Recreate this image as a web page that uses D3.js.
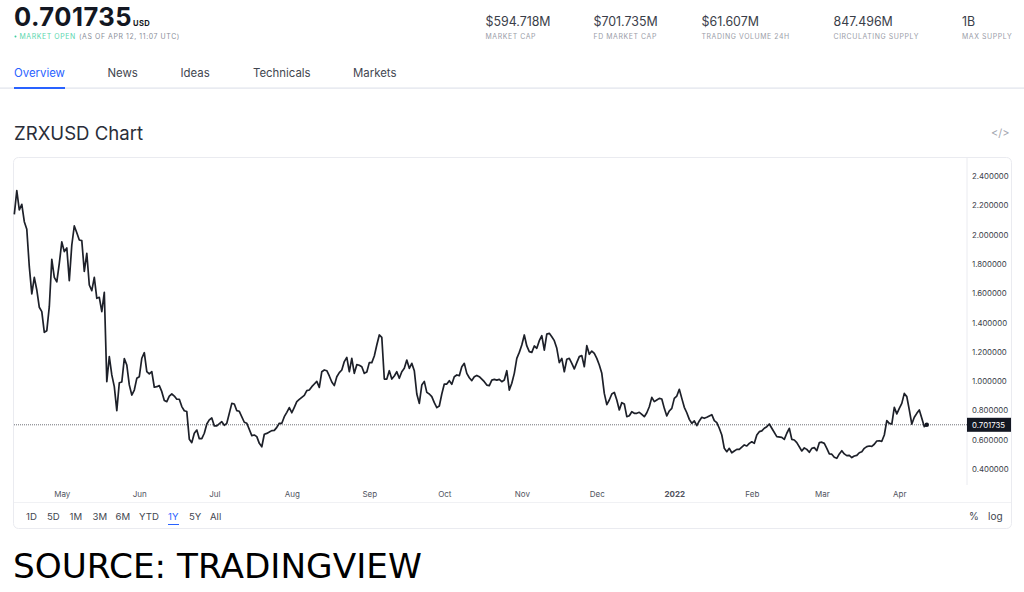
<!DOCTYPE html>
<html>
<head>
<title>ZRXUSD Chart</title>
<script src="https://d3js.org/d3.v7.min.js"></script>
<style>
    html, body { margin: 0; background: #fff; }
    svg { display: block; }
    text { font-family: Inter, 'Liberation Sans', sans-serif; }
</style>
</head>
<body>
<div id="vis"></div>
<script>
// daily closes, days counted from the first point
var startDate = new Date(Date.UTC(2021, 3, 12));
var days = [0,1,2,3,4,5,6,7,8,9,10,11,12,13,14,15,16,17,18,19,20,21,22,23,24,25,26,27,28,29,30,31,32,33,34,35,36,37,38,39,40,41,42,43,44,45,46,47,48,49,50,51,52,53,54,55,56,57,58,59,60,61,62,63,64,65,66,67,68,69,70,71,72,73,74,75,76,77,78,79,80,81,83,84,85,87,88,89,90,92,93,95,96,97,98,
    99,100,101,102,103,104,105,106,107,108,109,110,111,112,113,114,115,116,117,118,119,120,121,122,123,124,125,126,127,128,129,130,131,132,133,134,135,136,137,138,139,140,141,142,143,144,145,146,147,148,149,150,151,152,153,154,155,156,157,158,159,160,161,162,163,164,165,166,167,168,169,170,171,172,173,174,175,176,177,178,179,180,181,182,183,184,185,186,187,188,189,190,191,192,193,194,195,196,197,198,
    199,200,201,202,203,204,205,206,207,208,209,210,211,212,213,214,215,216,217,218,219,220,221,222,223,224,225,226,227,228,229,230,231,232,233,234,235,236,237,238,239,240,241,242,243,244,245,246,247,248,249,250,251,252,253,254,255,256,257,258,259,260,261,262,263,264,265,266,267,268,269,270,271,272,273,274,275,276,277,278,279,280,281,282,283,284,285,286,287,288,289,
    290,292,293,294,295,296,297,298,299,300,301,302,303,305,307,308,309,310,311,312,313,315,316,317,318,319,320,321,322,323,324,325,326,327,328,329,330,331,332,333,334,335,336,337,338,339,340,341,342,343,344,345,346,347,348,349,350,351,352,353,354,355,356,357,358,359,360,361,362,363,364,365];
var prices = [2.138,2.300,2.168,2.207,2.088,2.036,1.781,1.595,1.708,1.622,1.504,1.474,1.333,1.344,1.508,1.831,1.708,1.677,1.804,1.950,1.884,1.909,1.686,1.929,2.059,2.013,1.963,1.959,1.749,1.872,1.656,1.617,1.708,1.565,1.572,1.474,1.606,0.996,1.167,1.042,0.962,0.798,0.989,0.994,1.153,1.110,0.974,0.905,0.939,1.019,1.030,1.156,1.194,1.065,1.049,1.065,0.958,0.962,0.969,0.928,0.867,0.860,0.898,0.912,0.898,0.876,0.876,0.826,0.798,0.792,0.603,0.580,0.644,0.666,0.607,0.607,0.644,0.707,0.735,0.748,0.694,0.694,0.723,0.698,0.712,0.848,0.844,0.798,0.794,0.719,0.712,0.628,0.632,0.621,0.575,
    0.552,0.637,0.643,0.652,0.662,0.664,0.684,0.712,0.712,0.757,0.787,0.819,0.784,0.821,0.860,0.875,0.889,0.903,0.935,0.939,0.962,0.980,0.998,0.957,1.064,1.076,1.071,1.035,0.994,0.969,1.030,1.058,1.076,1.133,1.162,1.064,1.155,1.053,1.112,1.108,1.098,1.053,1.062,1.126,1.126,1.171,1.246,1.315,1.299,1.014,1.014,1.071,1.014,1.035,1.064,1.019,1.064,1.087,1.144,1.087,1.121,1.071,0.912,0.848,0.973,0.998,0.923,0.912,0.894,0.853,0.819,0.830,0.912,0.980,0.980,1.003,0.978,1.030,1.042,1.037,1.098,1.121,1.053,1.023,1.003,1.030,1.039,1.030,1.014,0.996,0.973,0.969,1.007,1.012,1.007,1.012,0.996,1.007,1.071,0.939,
    0.985,1.053,1.155,1.196,1.246,1.315,1.240,1.201,1.196,1.240,1.224,1.276,1.310,1.212,1.321,1.326,1.303,1.276,1.224,1.126,1.155,1.064,1.149,1.155,1.121,1.083,1.126,1.167,1.174,1.098,1.242,1.183,1.205,1.189,1.155,1.110,1.053,0.916,0.839,0.871,0.912,0.923,0.871,0.803,0.853,0.844,0.757,0.764,0.791,0.780,0.780,0.787,0.773,0.757,0.784,0.825,0.889,0.860,0.871,0.882,0.878,0.814,0.762,0.796,0.814,0.882,0.898,0.944,0.882,0.821,0.784,0.739,0.712,0.728,0.696,0.728,0.753,0.746,0.753,0.762,0.771,0.730,0.716,0.678,0.632,0.541,0.518,0.541,0.511,0.523,0.534,
    0.534,0.564,0.557,0.575,0.586,0.575,0.632,0.655,0.660,0.678,0.689,0.707,0.678,0.621,0.616,0.602,0.644,0.678,0.602,0.598,0.580,0.523,0.544,0.534,0.514,0.541,0.546,0.525,0.580,0.583,0.575,0.541,0.503,0.501,0.480,0.473,0.503,0.525,0.503,0.491,0.493,0.478,0.489,0.493,0.511,0.518,0.541,0.553,0.557,0.555,0.569,0.591,0.593,0.589,0.632,0.730,0.711,0.707,0.821,0.776,0.814,0.848,0.916,0.894,0.803,0.707,0.753,0.780,0.803,0.746,0.689,0.702];
var lastPrice = 0.701735;

var yTicks = [0.4,0.6,0.8,1.0,1.2,1.4,1.6,1.8,2.0,2.2,2.4];
var monthDates = [[2021,4],[2021,5],[2021,6],[2021,7],[2021,8],[2021,9],[2021,10],[2021,11],[2022,0],[2022,1],[2022,2],[2022,3]];
var monthLabels = ['May','Jun','Jul','Aug','Sep','Oct','Nov','Dec','2022','Feb','Mar','Apr'];

var statValues = ['$594.718M','$701.735M','$61.607M','847.496M','1B'];
var statLabels = ['MARKET CAP','FD MARKET CAP','TRADING VOLUME 24H','CIRCULATING SUPPLY','MAX SUPPLY'];
var statX = [485.5,593.5,701.5,833.5,962];
var tabs = ['Overview','News','Ideas','Technicals','Markets'];
var tabX = [14,107.5,180.5,253,353];
var ranges = ['1D','5D','1M','3M','6M','YTD','1Y','5Y','All'];
var rangeX = [26,47,69.5,92.5,115.5,139,168,189,210];

var svg = d3.select('#vis').append('svg').attr('width', 1024).attr('height', 592);

function label(x, y, str, size, color) {
    return svg.append('text').attr('x', x).attr('y', y)
        .attr('font-size', size).attr('fill', color).text(str);
}

// header
label(14, 25.5, '0.701735', 25.5, '#131722').attr('font-weight', 700).attr('letter-spacing', 0.5);
label(133, 25.5, 'USD', 7.6, '#131722').attr('font-weight', 700).attr('letter-spacing', 0.4);
svg.append('circle').attr('cx', 15.5).attr('cy', 36.5).attr('r', 1).attr('fill', '#3fcf9f');
label(19.5, 39, 'MARKET OPEN', 6.9, '#5ad6ae').attr('letter-spacing', 0.6);
label(79, 39, '(AS OF APR 12, 11:07 UTC)', 6.9, '#8a8e99').attr('letter-spacing', 0.6);

statValues.forEach(function(d, i) {
    label(statX[i], 26, d, 12.4, '#3a3e49');
    label(statX[i], 39, statLabels[i], 6.9, '#9a9da8').attr('letter-spacing', 0.6);
});

// tabs
svg.append('rect').attr('x', 0).attr('y', 87.5).attr('width', 1024).attr('height', 1.2).attr('fill', '#e0e3eb');
tabs.forEach(function(d, i) {
    label(tabX[i], 77, d, 11.4, i == 0 ? '#2962ff' : '#42464f');
});
svg.append('rect').attr('x', 14).attr('y', 87).attr('width', 51).attr('height', 2).attr('fill', '#2962ff');

label(14, 140, 'ZRXUSD Chart', 18.6, '#2a2e39');
label(991, 137, '</>', 11, '#a3a6af');

// chart card
svg.append('rect').attr('x', 13.5).attr('y', 157.5).attr('width', 998).attr('height', 371)
    .attr('rx', 5).attr('fill', '#fff').attr('stroke', '#eaebf0');
svg.append('line').attr('x1', 14).attr('x2', 1011).attr('y1', 502.5).attr('y2', 502.5).attr('stroke', '#f0f1f4');
svg.append('line').attr('x1', 967).attr('x2', 967).attr('y1', 158).attr('y2', 485).attr('stroke', '#eaebf0');

var xScale = d3.scaleUtc()
    .domain([startDate, d3.utcDay.offset(startDate, 365)])
    .range([14.3, 926.8]);
var yScale = d3.scaleLinear().domain([0.4, 2.4]).range([469, 176]);

var monthTicks = monthDates.map(function(d) { return new Date(Date.UTC(d[0], d[1], 1)); });

var xAxis = svg.append('g').attr('transform', 'translate(0,491)')
    .call(d3.axisBottom(xScale).tickValues(monthTicks).tickSize(0).tickPadding(0)
        .tickFormat(function(d, i) { return monthLabels[i]; }));
xAxis.select('.domain').remove();
xAxis.selectAll('text').attr('font-size', 8).attr('fill', '#50535e')
    .attr('font-family', 'Inter, sans-serif')
    .attr('font-weight', function(d, i) { return monthLabels[i] == '2022' ? 700 : 400; });

var yAxis = svg.append('g').attr('transform', 'translate(967,0)')
    .call(d3.axisRight(yScale).tickValues(yTicks).tickSize(0).tickPadding(5)
        .tickFormat(d3.format('.6f')));
yAxis.select('.domain').remove();
yAxis.selectAll('text').attr('font-size', 7.8).attr('fill', '#3a3e49')
    .attr('font-family', 'Inter, sans-serif');

// last price line, tag and series
svg.append('line').attr('x1', 14).attr('x2', 967)
    .attr('y1', yScale(lastPrice)).attr('y2', yScale(lastPrice))
    .attr('stroke', '#4a4d55').attr('stroke-width', 0.8).attr('stroke-dasharray', '1,1');

var line = d3.line()
    .x(function(d, i) { return xScale(d3.utcDay.offset(startDate, days[i])); })
    .y(function(d) { return yScale(d); });

svg.append('path').datum(prices).attr('d', line)
    .attr('fill', 'none').attr('stroke', '#1d2029').attr('stroke-width', 1.7)
    .attr('stroke-linejoin', 'round');

svg.append('circle').attr('cx', xScale(d3.utcDay.offset(startDate, 365))).attr('cy', yScale(lastPrice))
    .attr('r', 2.2).attr('fill', '#131722');

svg.append('rect').attr('x', 967).attr('y', yScale(lastPrice) - 7).attr('width', 44).attr('height', 14)
    .attr('fill', '#131722');
label(972, yScale(lastPrice) + 3, d3.format('.6f')(lastPrice), 7.8, '#fff');

// range buttons
ranges.forEach(function(d, i) {
    label(rangeX[i], 520, d, 9.6, d == '1Y' ? '#2962ff' : '#42464f');
});
svg.append('rect').attr('x', 168).attr('y', 524).attr('width', 11).attr('height', 1).attr('fill', '#2962ff');
label(969, 520, '%', 10, '#42464f');
label(988, 520, 'log', 10, '#42464f');

label(13, 577.5, 'SOURCE: TRADINGVIEW', 34.3, '#000').style('font-family', "'DejaVu Sans'");
</script>
</body>
</html>
